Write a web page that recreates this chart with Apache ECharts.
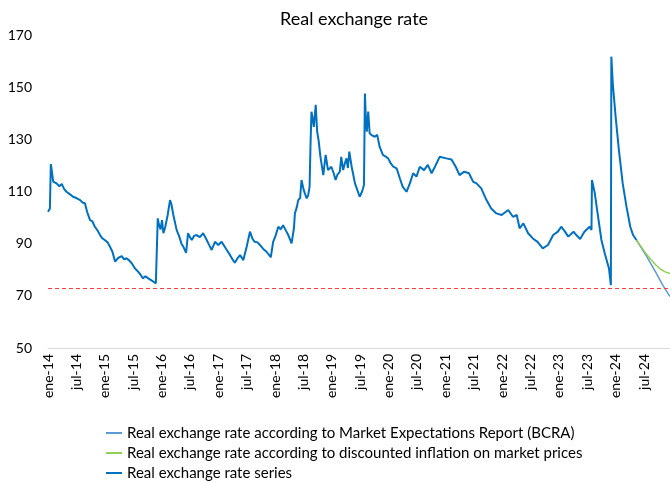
<!DOCTYPE html>
<html>
<head>
<meta charset="utf-8">
<script src="https://cdn.jsdelivr.net/npm/echarts@6/dist/echarts.min.js"></script>
<style>
  html, body { margin: 0; padding: 0; background: #fff; }
  #chart { width: 670px; height: 483px; }
</style>
</head>
<body>
<div id="chart"></div>
<script>
// months counted from ene-14 (0 = Jan 2014)
const seriesMonths = [
  0, 0.4, 0.6, 0.8, 1.1, 1.5, 1.8, 2.4, 2.9, 3.4, 3.9, 4.6, 5.3, 6.0, 6.8, 7.3, 7.8, 8.3, 8.9, 9.4,
  9.9, 10.5, 11, 11.5, 12, 12.6, 13.1, 13.6, 14.2, 14.8, 15.6, 16.1, 16.6, 17.2, 17.7, 18.4, 19.1, 19.6, 20.1, 20.6,
  21.2, 21.8, 22.3, 22.8, 23.1, 23.2, 23.5, 23.8, 24.1, 24.4, 24.8, 25.3, 25.8, 26.1, 26.5, 27.2, 27.7, 28.2, 28.7, 29.2,
  29.6, 30.0, 30.4, 30.9, 31.4, 32.1, 32.8, 33.4, 33.9, 34.6, 35.3, 36.0, 36.7, 37.3, 37.8, 38.5, 39.0, 39.5, 40.1, 40.6,
  41.3, 42.0, 42.7, 43.2, 43.7, 44.3, 44.8, 45.5, 46.2, 47.1, 47.6, 48.1, 48.7, 49.2, 49.7, 50.3, 50.8, 51.5, 52.0, 52.2,
  52.6, 52.9, 53.3, 53.6, 54.0, 54.3, 54.7, 55.0, 55.3, 55.5, 55.7, 56.0, 56.2, 56.6, 56.9, 57.2, 57.6, 58.2, 58.7, 59.2,
  59.9, 60.4, 60.8, 61.2, 61.7, 62.0, 62.4, 62.8, 63.1, 63.4, 63.7, 64.2, 64.9, 65.4, 65.9, 66.4, 66.8, 67.0, 67.2, 67.4,
  67.7, 68.0, 68.5, 69.1, 69.6, 70.1, 70.8, 71.3, 71.9, 72.4, 73.0, 73.7, 74.4, 75.0, 75.8, 76.5, 77.2, 77.9, 78.6, 79.5,
  80.3, 81.1, 81.8, 82.8, 83.2, 84.2, 85.3, 86.2, 87.0, 88.0, 89.0, 89.9, 90.6, 91.6, 92.7, 93.7, 94.8, 95.9, 97.3, 98.3,
  99.1, 99.7, 100.5, 101.5, 102.5, 103.5, 104.6, 105.7, 106.8, 107.8, 108.5, 109.3, 110.0, 111.1, 111.7, 112.5, 113.4, 114.5, 114.9, 115.0,
  115.6, 116.3, 117.0, 117.7, 118.6, 119.0, 119.1, 119.4, 120.0, 120.7, 121.5, 122.3, 123.1, 123.7, 124.4
];
const seriesValues = [
  102.2, 103.5, 120.5, 118, 113.8, 114.5, 113.1, 112, 112.9, 111, 109.9, 109, 108, 107.5, 106.7, 105.8, 105.5, 102, 99, 98.5,
  96.5, 95, 93.3, 92, 91.4, 90.5, 88.8, 87, 83.1, 84.5, 85.2, 84, 84.4, 83.5, 82.5, 80.5, 79.2, 78, 76.7, 77.5,
  76.7, 76, 75.4, 74.8, 74.1, 99.7, 97, 95.5, 99, 94, 96.5, 101, 106.7, 105, 101, 95.2, 93, 90.1, 88.5, 86.5,
  94, 92.5, 91.4, 93, 93.3, 92.5, 94, 92, 90.1, 87.6, 90.7, 89.5, 90.7, 89, 87.6, 85.6, 84, 82.7, 84.5, 85.6,
  83.7, 88.8, 94.6, 92, 90.7, 90.5, 89.5, 88, 86.9, 84.8, 90.7, 93, 96.5, 95.5, 97.1, 95, 93.3, 90.1, 96, 101.6,
  104, 106.7, 107.5, 114.4, 111, 109.3, 107.4, 108.5, 111.8, 128, 140.6, 137.4, 134.8, 143.2, 133, 129.7, 123.3, 116.3, 124, 118.2,
  119.5, 117, 114.4, 116.5, 117.6, 123.3, 118.2, 121, 122.7, 119, 125.3, 119.5, 113.1, 110.5, 108, 110, 112.5, 147.6, 138, 132.9,
  140.6, 132.3, 131.5, 131, 131.7, 127.2, 124, 123.5, 122.7, 121, 119.5, 118.9, 115, 111.8, 109.9, 113.1, 117, 115.7, 119.5, 118.2,
  120.2, 117, 119.5, 123.3, 123.6, 122.7, 122.3, 119.5, 116.3, 117.6, 117, 113.7, 113.1, 111.2, 106.7, 103.5, 101.6, 101, 102.9, 100.3,
  101, 95.9, 97.8, 94, 92, 90.7, 88.2, 89.5, 93.3, 94.6, 96.5, 94.6, 92.7, 94.6, 93.3, 91.8, 94.6, 96.5, 95.2, 114.4,
  109.3, 100.3, 91.4, 86.3, 80.5, 74.1, 161.7, 151.5, 138.7, 125.9, 113.1, 104.2, 96.5, 93.3, 91.4
];
const bcraMonths = [124.4, 126.5, 128.5, 130.0, 131.5];
const bcraValues = [91.4, 85.3, 79.0, 74.0, 69.7];
const marketMonths = [124.4, 125.5, 126.5, 127.5, 128.5, 129.5, 130.5, 131.5];
const marketValues = [91.4, 88.6, 86.0, 83.8, 81.8, 80.2, 79.2, 78.5];
const referenceLevel = 73;

const yTicks = { min: 50, max: 170, step: 20 };
const monthNames = { 0: 'ene', 6: 'jul' };

function pairs(xs, ys) {
  return xs.map((x, i) => [x, ys[i]]);
}

const font = 'Lato, "Open Sans", sans-serif';
const chart = echarts.init(document.getElementById('chart'));

chart.setOption({
  animation: false,
  textStyle: { fontFamily: font },
  title: {
    text: 'Real exchange rate',
    left: 275,
    top: 5,
    textStyle: { fontFamily: font, fontSize: 18, fontWeight: 'normal', color: '#000' }
  },
  legend: {
    orient: 'vertical',
    left: 106,
    top: 425,
    padding: 0,
    icon: 'rect',
    itemWidth: 16,
    itemHeight: 2,
    itemGap: 4,
    textStyle: { fontFamily: font, fontSize: 15, lineHeight: 16, color: '#000' },
    data: [
      'Real exchange rate according to Market Expectations Report (BCRA)',
      'Real exchange rate according to discounted inflation on market prices',
      'Real exchange rate series'
    ]
  },
  grid: { left: 48, right: 0, top: 35, bottom: 135 },
  xAxis: {
    type: 'value',
    min: 0,
    max: 131.5,
    interval: 6,
    axisLine: { show: true, lineStyle: { color: '#d9d9d9', width: 1 } },
    axisTick: { show: false },
    splitLine: { show: false },
    axisLabel: {
      rotate: 90,
      margin: 6,
      showMaxLabel: false,
      fontSize: 14,
      color: '#000',
      formatter: function (v) {
        if (v % 6 !== 0) return '';
        const yy = 14 + Math.floor(v / 12);
        return monthNames[v % 12] + '-' + yy;
      }
    }
  },
  yAxis: {
    type: 'value',
    min: yTicks.min,
    max: yTicks.max,
    interval: yTicks.step,
    axisLine: { show: false },
    axisTick: { show: false },
    splitLine: { show: false },
    axisLabel: { fontSize: 14, color: '#000', margin: 16 }
  },
  series: [
    {
      name: 'Real exchange rate according to Market Expectations Report (BCRA)',
      type: 'line',
      showSymbol: false,
      symbol: 'none',
      color: '#5b9bd5',
      lineStyle: { width: 1.5, color: '#5b9bd5' },
      data: pairs(bcraMonths, bcraValues)
    },
    {
      name: 'Real exchange rate according to discounted inflation on market prices',
      type: 'line',
      showSymbol: false,
      symbol: 'none',
      color: '#92d050',
      lineStyle: { width: 1.5, color: '#92d050' },
      data: pairs(marketMonths, marketValues)
    },
    {
      name: 'Real exchange rate series',
      type: 'line',
      showSymbol: false,
      symbol: 'none',
      color: '#0070c0',
      lineStyle: { width: 2, color: '#0070c0' },
      data: pairs(seriesMonths, seriesValues),
      markLine: {
        silent: true,
        symbol: 'none',
        label: { show: false },
        lineStyle: { color: '#ff3b3b', type: [4, 3], width: 1.2 },
        data: [{ yAxis: referenceLevel }]
      }
    }
  ]
});
</script>
</body>
</html>
